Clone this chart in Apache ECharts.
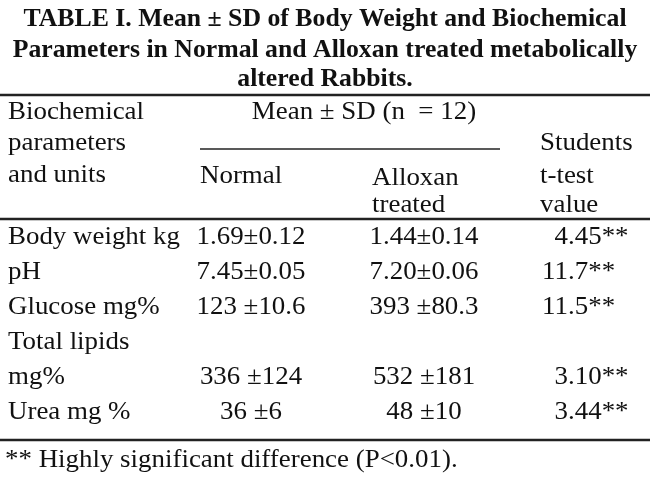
<!DOCTYPE html>
<html>
<head>
<meta charset="utf-8">
<script src="https://cdn.jsdelivr.net/npm/echarts@6/dist/echarts.min.js"></script>
<style>
  html, body { margin: 0; padding: 0; background: #fff; }
  #main { width: 650px; height: 479px; }
</style>
</head>
<body>
<div id="main"></div>
<script>
// table contents
var titleLines = [
    'TABLE I. Mean \u00b1 SD of Body Weight and Biochemical',
    'Parameters in Normal and Alloxan treated metabolically',
    'altered Rabbits.'
];
var rowLabels = ['Body weight kg', 'pH', 'Glucose mg%', 'Total lipids', 'mg%', 'Urea mg %'];
var normalMeanSD = ['1.69\u00b10.12', '7.45\u00b10.05', '123 \u00b110.6', '', '336 \u00b1124', '36 \u00b16'];
var alloxanMeanSD = ['1.44\u00b10.14', '7.20\u00b10.06', '393 \u00b180.3', '', '532 \u00b1181', '48 \u00b110'];
var tValues = ['4.45**', '11.7**', '11.5**', '', '3.10**', '3.44**'];
var footnote = '** Highly significant difference (P<0.01).';

var FONT = '26px "Liberation Serif", "Times New Roman", serif';
var BOLD = 'bold 25px "Liberation Serif", "Times New Roman", serif';
var INK = '#111';
var SX = 1.035, SX_TITLE = 1.03;   // the scanned type is a bit wider than Times

// column anchors on the hidden x axis (0..650 = page width)
var colLabel = 8, colNormal = 251, colAlloxan = 424, colTdot = 568;

var Mychart = echarts.init(document.getElementById('main'));

function txt(x, y, s, align, font) {
    return {
        type: 'text', x: x, y: y, silent: true,
        scaleX: font === BOLD ? SX_TITLE : SX,
        style: { text: s, font: font || FONT, fill: INK, textAlign: align || 'left', textVerticalAlign: 'middle' }
    };
}
function rule(x1, x2, y, w) {
    return { type: 'line', silent: true, shape: { x1: x1, y1: y, x2: x2, y2: y }, style: { stroke: '#222', lineWidth: w || 2 } };
}

var graphics = [];
titleLines.forEach(function (s, i) {
    graphics.push(txt(325, [20, 51, 80][i], s, 'center', BOLD));
});
graphics.push(rule(0, 650, 95, 2.5));
graphics.push(txt(8, 112, 'Biochemical'));
graphics.push(txt(8, 143, 'parameters'));
graphics.push(txt(8, 175, 'and units'));
graphics.push(txt(364, 112, 'Mean \u00b1 SD (n  = 12)', 'center'));
graphics.push(rule(200, 500, 149, 1.5));
graphics.push(txt(540, 143, 'Students'));
graphics.push(txt(200, 176, 'Normal'));
graphics.push(txt(372, 178, 'Alloxan'));
graphics.push(txt(540, 176, 't-test'));
graphics.push(txt(372, 205, 'treated'));
graphics.push(txt(540, 205, 'value'));
graphics.push(rule(0, 650, 219, 2.5));
graphics.push(rule(0, 650, 440, 2.5));
graphics.push(txt(5, 460, footnote));

function renderRow(params, api) {
    var i = api.value(0);
    var y = api.coord([0, i])[1];
    var xs = function (v) { return api.coord([v, i])[0]; };
    var t = tValues[i];
    var dot = t.indexOf('.');
    var kids = [
        txt(xs(colLabel), y, rowLabels[i]),
        txt(xs(colNormal), y, normalMeanSD[i], 'center'),
        txt(xs(colAlloxan), y, alloxanMeanSD[i], 'center')
    ];
    if (dot >= 0) {
        kids.push(txt(xs(colTdot), y, t.slice(0, dot), 'right'));
        kids.push(txt(xs(colTdot), y, t.slice(dot), 'left'));
    }
    return { type: 'group', children: kids };
}

var option = {
    backgroundColor: '#fff',
    animation: false,
    grid: { left: 0, right: 0, top: 220, height: 210 },
    xAxis: { type: 'value', min: 0, max: 650, show: false },
    yAxis: { type: 'category', data: rowLabels, inverse: true, show: false },
    graphic: graphics,
    series: [{
        type: 'custom',
        renderItem: renderRow,
        data: rowLabels.map(function (l, i) { return [i]; })
    }]
};
Mychart.setOption(option);
</script>
</body>
</html>
